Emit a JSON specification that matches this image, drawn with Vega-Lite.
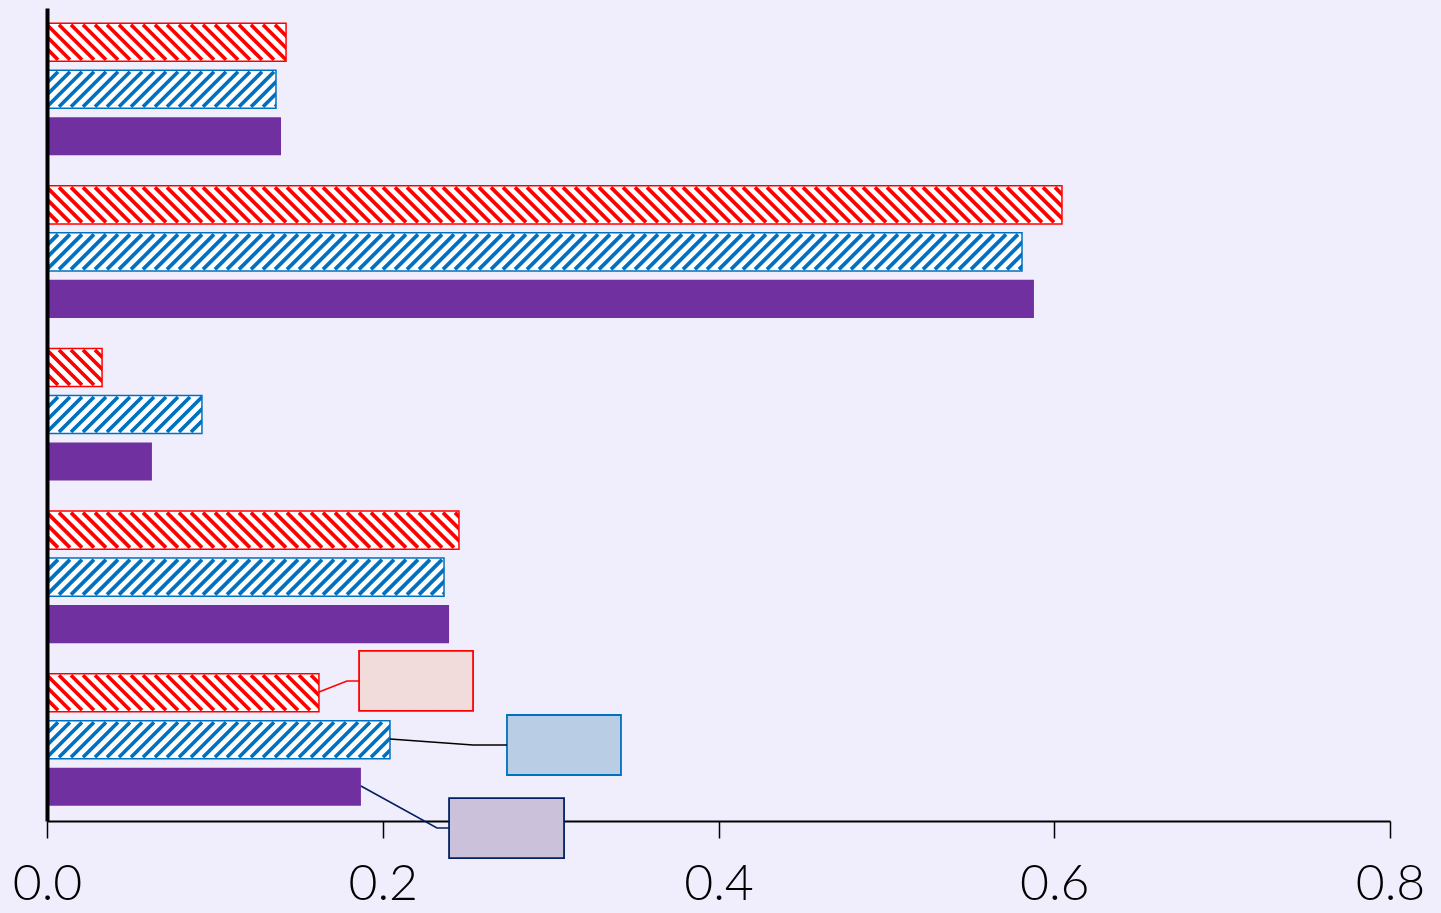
{
  "$schema": "https://vega.github.io/schema/vega-lite/v6.json",
  "width": 1343,
  "height": 813,
  "autosize": {"type": "none"},
  "padding": {"left": 47, "top": 8, "right": 51, "bottom": 92},
  "background": "#F0EEFC",
  "config": {"view": {"stroke": null}},
  "resolve": {"scale": {"y": "independent", "fill": "independent", "stroke": "independent"}},
  "layer": [
    {
      "data": {"values": [
        {"g": "A", "s": "S1", "v": 0.1424}, {"g": "A", "s": "S2", "v": 0.1364}, {"g": "A", "s": "S3", "v": 0.1394},
        {"g": "B", "s": "S1", "v": 0.6046}, {"g": "B", "s": "S2", "v": 0.5808}, {"g": "B", "s": "S3", "v": 0.5879},
        {"g": "C", "s": "S1", "v": 0.0328}, {"g": "C", "s": "S2", "v": 0.0923}, {"g": "C", "s": "S3", "v": 0.0625},
        {"g": "D", "s": "S1", "v": 0.2454}, {"g": "D", "s": "S2", "v": 0.2365}, {"g": "D", "s": "S3", "v": 0.2395},
        {"g": "E", "s": "S1", "v": 0.162}, {"g": "E", "s": "S2", "v": 0.2043}, {"g": "E", "s": "S3", "v": 0.187}
      ]},
      "encoding": {
        "y": {"field": "g", "type": "nominal", "sort": null,
              "scale": {"paddingInner": 0, "paddingOuter": 0},
              "axis": {"title": null, "labels": false, "ticks": false, "grid": false,
                       "domainColor": "#000000", "domainWidth": 4, "zindex": 1}},
        "yOffset": {"field": "s", "type": "nominal", "sort": null,
                    "scale": {"paddingInner": 0.19, "paddingOuter": 0.325}}
      },
      "layer": [
        {
          "mark": {"type": "bar", "strokeWidth": 0},
          "encoding": {
            "x": {"field": "v", "type": "quantitative",
                  "scale": {"domain": [0, 0.8], "nice": false, "zero": true},
                  "axis": {"values": [0, 0.2, 0.4, 0.6, 0.8], "format": ".1f", "title": null, "grid": false,
                           "domainColor": "#000000", "domainWidth": 2, "tickColor": "#000000", "tickWidth": 1.5,
                           "tickSize": 17, "labelFontSize": 50, "labelFont": "Lato", "labelFontWeight": 300,
                           "labelColor": "#000000", "labelPadding": 21, "labelFlush": false, "labelOverlap": false,
                           "zindex": 0}},
            "fill": {"field": "s", "type": "nominal", "legend": null,
                     "scale": {"domain": ["S1", "S2", "S3"], "range": ["#FFFFFF", "#FFFFFF", "#7030A0"]}}
          }
        },
        {
          "transform": [{"filter": "datum.s !== 'S3'"}],
          "mark": {"type": "point", "filled": false, "opacity": 1, "size": 4, "strokeWidth": 3.7, "strokeCap": "butt"},
          "encoding": {
            "x": {"datum": 0},
            "shape": {"field": "s", "type": "nominal", "legend": null,
                      "scale": {"domain": ["S1", "S2"], "range": [
                        "M0,6.5L11,17.5M0,-5.5L23,17.5M0,-17.5l35,35m-23,-35l35,35m-23,-35l35,35m-23,-35l35,35m-23,-35l35,35m-23,-35l35,35m-23,-35l35,35m-23,-35l35,35m-23,-35l35,35m-23,-35l35,35m-23,-35l35,35m-23,-35l35,35m-23,-35l35,35m-23,-35l35,35m-23,-35l35,35m-23,-35l35,35m-23,-35l35,35m-23,-35l35,35m-23,-35l35,35m-23,-35l35,35m-23,-35l35,35m-23,-35l35,35m-23,-35l35,35m-23,-35l35,35m-23,-35l35,35m-23,-35l35,35m-23,-35l35,35m-23,-35l35,35m-23,-35l35,35m-23,-35l35,35m-23,-35l35,35m-23,-35l35,35m-23,-35l35,35m-23,-35l35,35m-23,-35l35,35m-23,-35l35,35m-23,-35l35,35m-23,-35l35,35m-23,-35l35,35m-23,-35l35,35m-23,-35l35,35m-23,-35l35,35m-23,-35l35,35m-23,-35l35,35m-23,-35l35,35m-23,-35l35,35m-23,-35l35,35m-23,-35l35,35m-23,-35l35,35m-23,-35l35,35m-23,-35l35,35m-23,-35l35,35m-23,-35l35,35m-23,-35l35,35m-23,-35l35,35m-23,-35l35,35m-23,-35l35,35m-23,-35l35,35m-23,-35l35,35m-23,-35l35,35m-23,-35l35,35m-23,-35l35,35m-23,-35l35,35m-23,-35l35,35m-23,-35l35,35m-23,-35l35,35m-23,-35l35,35m-23,-35l35,35m-23,-35l35,35m-23,-35l35,35m-23,-35l35,35m-23,-35l35,35m-23,-35l35,35m-23,-35l35,35m-23,-35l35,35m-23,-35l35,35m-23,-35l35,35m-23,-35l35,35m-23,-35l35,35m-23,-35l35,35m-23,-35l35,35m-23,-35l35,35m-23,-35l35,35m-23,-35l35,35m-23,-35l35,35m-23,-35l35,35m-23,-35l35,35m-23,-35l35,35m-23,-35l35,35m-23,-35l35,35m-23,-35l35,35",
                        "M0,-6.5L11,-17.5M0,5.5L23,-17.5M0,17.5l35,-35m-23,35l35,-35m-23,35l35,-35m-23,35l35,-35m-23,35l35,-35m-23,35l35,-35m-23,35l35,-35m-23,35l35,-35m-23,35l35,-35m-23,35l35,-35m-23,35l35,-35m-23,35l35,-35m-23,35l35,-35m-23,35l35,-35m-23,35l35,-35m-23,35l35,-35m-23,35l35,-35m-23,35l35,-35m-23,35l35,-35m-23,35l35,-35m-23,35l35,-35m-23,35l35,-35m-23,35l35,-35m-23,35l35,-35m-23,35l35,-35m-23,35l35,-35m-23,35l35,-35m-23,35l35,-35m-23,35l35,-35m-23,35l35,-35m-23,35l35,-35m-23,35l35,-35m-23,35l35,-35m-23,35l35,-35m-23,35l35,-35m-23,35l35,-35m-23,35l35,-35m-23,35l35,-35m-23,35l35,-35m-23,35l35,-35m-23,35l35,-35m-23,35l35,-35m-23,35l35,-35m-23,35l35,-35m-23,35l35,-35m-23,35l35,-35m-23,35l35,-35m-23,35l35,-35m-23,35l35,-35m-23,35l35,-35m-23,35l35,-35m-23,35l35,-35m-23,35l35,-35m-23,35l35,-35m-23,35l35,-35m-23,35l35,-35m-23,35l35,-35m-23,35l35,-35m-23,35l35,-35m-23,35l35,-35m-23,35l35,-35m-23,35l35,-35m-23,35l35,-35m-23,35l35,-35m-23,35l35,-35m-23,35l35,-35m-23,35l35,-35m-23,35l35,-35m-23,35l35,-35m-23,35l35,-35m-23,35l35,-35m-23,35l35,-35m-23,35l35,-35m-23,35l35,-35m-23,35l35,-35m-23,35l35,-35m-23,35l35,-35m-23,35l35,-35m-23,35l35,-35m-23,35l35,-35m-23,35l35,-35m-23,35l35,-35m-23,35l35,-35m-23,35l35,-35m-23,35l35,-35m-23,35l35,-35m-23,35l35,-35m-23,35l35,-35"
                      ]}},
            "stroke": {"field": "s", "type": "nominal", "legend": null,
                       "scale": {"domain": ["S1", "S2"], "range": ["#FF0000", "#0070C0"]}}
          }
        },
        {
          "transform": [{"filter": "datum.s !== 'S3'"}],
          "mark": {"type": "bar", "fill": "#F0EEFC", "strokeWidth": 0},
          "encoding": {
            "x": {"field": "v", "type": "quantitative"},
            "x2": {"datum": 0.8}
          }
        },
        {
          "transform": [{"filter": "datum.s !== 'S3'"}],
          "mark": {"type": "bar", "filled": false, "strokeWidth": 1.5},
          "encoding": {
            "x": {"field": "v", "type": "quantitative"},
            "stroke": {"field": "s", "type": "nominal", "legend": null,
                       "scale": {"domain": ["S1", "S2"], "range": ["#FF0000", "#0070C0"]}}
          }
        }
      ]
    },
    {
      "layer": [
        {
          "data": {"values": [
            {"k": "r", "x": 0.1859, "x2": 0.2538, "y": 3.954, "y2": 4.323},
            {"k": "b", "x": 0.274, "x2": 0.3419, "y": 4.348, "y2": 4.717},
            {"k": "p", "x": 0.2395, "x2": 0.308, "y": 4.859, "y2": 5.228}
          ]},
          "mark": {"type": "rect", "strokeWidth": 1.8},
          "encoding": {
            "x": {"field": "x", "type": "quantitative"},
            "x2": {"field": "x2"},
            "y": {"field": "y", "type": "quantitative",
                  "scale": {"domain": [0, 5], "reverse": true, "nice": false, "zero": false}, "axis": null},
            "y2": {"field": "y2"},
            "fill": {"field": "k", "type": "nominal", "legend": null,
                     "scale": {"domain": ["r", "b", "p"], "range": ["#F2DCDB", "#B9CDE5", "#CCC1DA"]}},
            "stroke": {"field": "k", "type": "nominal", "legend": null,
                       "scale": {"domain": ["r", "b", "p"], "range": ["#FF0000", "#0070C0", "#002060"]}}
          }
        },
        {
          "data": {"values": [
            {"k": "r", "i": 1, "x": 0.162, "y": 4.207},
            {"k": "r", "i": 2, "x": 0.1787, "y": 4.139},
            {"k": "r", "i": 3, "x": 0.1859, "y": 4.139},
            {"k": "b", "i": 1, "x": 0.2043, "y": 4.496},
            {"k": "b", "i": 2, "x": 0.2538, "y": 4.533},
            {"k": "b", "i": 3, "x": 0.274, "y": 4.533},
            {"k": "p", "i": 1, "x": 0.187, "y": 4.785},
            {"k": "p", "i": 2, "x": 0.2323, "y": 5.043},
            {"k": "p", "i": 3, "x": 0.2395, "y": 5.043}
          ]},
          "mark": {"type": "line", "strokeWidth": 1.6},
          "encoding": {
            "x": {"field": "x", "type": "quantitative"},
            "y": {"field": "y", "type": "quantitative"},
            "order": {"field": "i"},
            "color": {"field": "k", "type": "nominal", "legend": null,
                      "scale": {"domain": ["r", "b", "p"], "range": ["#FF0000", "#000000", "#002060"]}}
          }
        }
      ]
    }
  ]
}
